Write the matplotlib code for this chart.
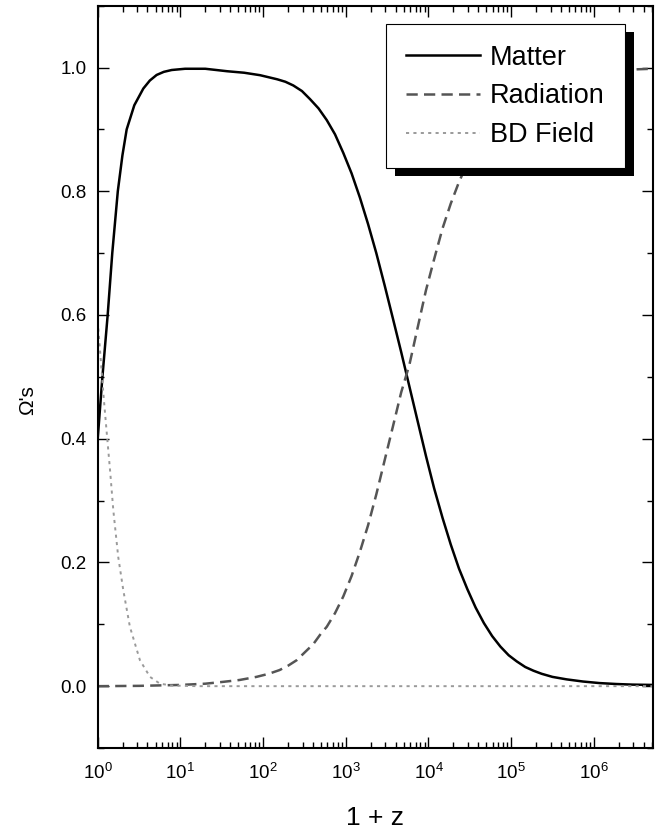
#!/usr/bin/env python3
"""Density parameters (matter, radiation, BD field) vs 1 + z"""

from __future__ import annotations

import matplotlib

matplotlib.use("Agg")

import matplotlib.pyplot as plt
from matplotlib.patches import Rectangle
from matplotlib.ticker import FixedLocator, LogLocator, NullFormatter

# values
MATTER_X = [1.00, 1.14, 1.32, 1.50, 1.75, 1.99, 2.24, 2.77, 3.56, 4.27, 5.16,
            6.3, 7.85, 11.4, 20, 36.8, 58.9, 92, 148, 186, 232, 295, 369,
            468, 589, 741, 933, 1175, 1480, 1860, 2340, 2950, 3720, 4680,
            5890, 7410, 9330, 11700, 14800, 18600, 23400, 29500, 37200,
            46800, 58900, 74100, 93300, 117000, 148000, 186000, 234000,
            316000, 468000, 741000, 1.17e6, 1.86e6, 2.95e6, 5.2e6]
MATTER_Y = [0.40, 0.50, 0.60, 0.70, 0.80, 0.858, 0.90, 0.939, 0.966, 0.979,
            0.988, 0.993, 0.996, 0.998, 0.998, 0.994, 0.9916, 0.9876, 0.981,
            0.977, 0.971, 0.962, 0.949, 0.934, 0.915, 0.892, 0.862, 0.829,
            0.790, 0.747, 0.700, 0.648, 0.594, 0.540, 0.484, 0.428, 0.372,
            0.320, 0.272, 0.229, 0.190, 0.157, 0.127, 0.102, 0.081, 0.064,
            0.050, 0.040, 0.031, 0.025, 0.020, 0.015, 0.011, 0.0075, 0.005,
            0.0035, 0.0025, 0.002]

RADIATION_X = [1.0, 3.16, 10, 20, 33, 52, 83, 117, 158, 200, 255, 321, 405,
               501, 589, 741, 933, 1175, 1480, 1860, 2340, 2950, 3720, 4680,
               5890, 7410, 9330, 11700, 14800, 18600, 23400, 29500, 37200,
               46800, 74100, 117000, 186000, 316000, 741000, 1.86e6, 5.2e6]
RADIATION_Y = [0.0, 0.0005, 0.002, 0.004, 0.007, 0.010, 0.015, 0.020, 0.026,
               0.033, 0.042, 0.055, 0.068, 0.085, 0.096, 0.118, 0.145, 0.178,
               0.217, 0.260, 0.310, 0.365, 0.420, 0.475, 0.520, 0.580, 0.640,
               0.690, 0.740, 0.780, 0.815, 0.845, 0.872, 0.897, 0.935, 0.960,
               0.975, 0.985, 0.992, 0.996, 0.998]

BD_X = [1.0, 1.067, 1.17, 1.285, 1.41, 1.545, 1.77, 2.04, 2.45, 3.24, 4.29,
        5.66, 7.9, 16, 100, 1e4, 1e6, 5.2e6]
BD_Y = [0.59, 0.543, 0.473, 0.41, 0.349, 0.284, 0.209, 0.155, 0.096, 0.042,
        0.015, 0.004, 0.001, 0.0, 0.0, 0.0, 0.0, 0.0]

X_TICKS = [1e0, 1e1, 1e2, 1e3, 1e4, 1e5, 1e6]
Y_TICKS = [0.0, 0.2, 0.4, 0.6, 0.8, 1.0]
Y_MINOR = [-0.1, 0.1, 0.3, 0.5, 0.7, 0.9, 1.1]


def SetupStyle() -> None:
    plt.rcParams["font.family"] = ["Liberation Sans", "DejaVu Sans"]
    plt.rcParams["mathtext.fontset"] = "custom"
    plt.rcParams["mathtext.rm"] = "Liberation Sans"
    plt.rcParams["mathtext.it"] = "Liberation Sans"
    plt.rcParams["mathtext.default"] = "regular"


def AddLegendShadow(fig: plt.Figure, ax: plt.Axes, leg) -> None:
    fig.canvas.draw()
    bb = leg.get_window_extent()
    inv = ax.transAxes.inverted()
    x0, y0 = inv.transform((bb.x0 + 9, bb.y0 - 8))
    x1, y1 = inv.transform((bb.x1 + 9, bb.y1 - 8))
    ax.add_patch(Rectangle((x0, y0), x1 - x0, y1 - y0, transform=ax.transAxes,
                           facecolor="black", edgecolor="none", zorder=4,
                           clip_on=False))


def BuildFigure() -> plt.Figure:
    fig = plt.figure(figsize=(6.72, 8.33), dpi=100)
    ax = fig.add_axes([0.1454, 0.102, 0.8264, 0.8912])

    ax.plot(MATTER_X, MATTER_Y, color="black", linewidth=1.8, label="Matter")
    ax.plot(RADIATION_X, RADIATION_Y, color="#555555", linewidth=1.8,
            dashes=(4.5, 2.5), label="Radiation")
    ax.plot(BD_X, BD_Y, color="#9a9a9a", linewidth=1.4, dashes=(1.6, 2.2),
            label="BD Field")

    ax.set_xscale("log")
    ax.set_xlim(1, 5.2e6)
    ax.set_ylim(-0.1, 1.1)
    ax.xaxis.set_major_locator(FixedLocator(X_TICKS))
    ax.xaxis.set_minor_locator(LogLocator(base=10, subs=range(2, 10), numticks=20))
    ax.xaxis.set_minor_formatter(NullFormatter())
    ax.yaxis.set_major_locator(FixedLocator(Y_TICKS))
    ax.yaxis.set_minor_locator(FixedLocator(Y_MINOR))
    ax.yaxis.set_minor_formatter(NullFormatter())
    ax.set_yticklabels([f"{v:.1f}" for v in Y_TICKS])

    for side in ax.spines.values():
        side.set_linewidth(1.5)
    ax.tick_params(which="both", direction="in", top=True, right=True,
                   width=1.0, labelsize=13.5)
    ax.tick_params(which="major", length=8)
    ax.tick_params(which="minor", length=4.5)
    ax.tick_params(axis="y", pad=8)
    ax.tick_params(axis="x", pad=11)

    ax.set_xlabel("1 + z", fontsize=19)
    ax.xaxis.set_label_coords(0.5, -0.094)
    ax.xaxis.label.set_verticalalignment("center")
    ax.set_ylabel("Ω's", fontsize=15)
    ax.yaxis.set_label_coords(-0.127, 0.469)
    ax.yaxis.label.set_verticalalignment("center")

    leg = ax.legend(loc="upper right", bbox_to_anchor=(0.9495, 0.975),
                    borderaxespad=0, fontsize=19.5, handlelength=2.75,
                    handletextpad=0.35, borderpad=0.75, labelspacing=0.47,
                    fancybox=False, framealpha=1, edgecolor="black")
    leg.get_frame().set_linewidth(0.8)
    leg.set_zorder(5)
    AddLegendShadow(fig, ax, leg)
    return fig


def Main() -> int:
    SetupStyle()
    fig = BuildFigure()
    fig.savefig("out.png", dpi=100)
    plt.close(fig)
    return 0


if __name__ == "__main__":
    raise SystemExit(Main())
